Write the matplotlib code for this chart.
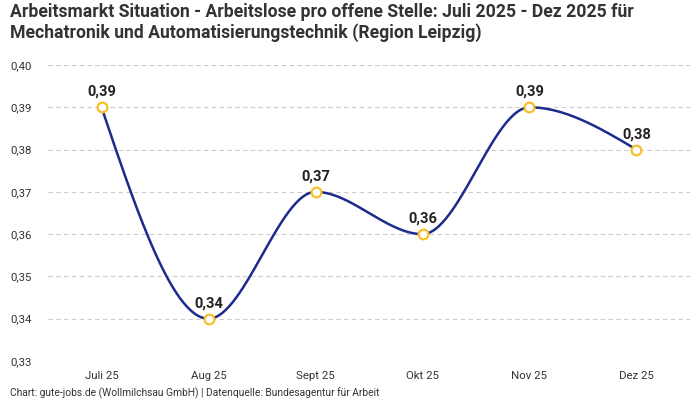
import numpy as np
import matplotlib
matplotlib.use("Agg")
import matplotlib.pyplot as plt

categories = ["Juli 25", "Aug 25", "Sept 25", "Okt 25", "Nov 25", "Dez 25"]
values = [0.39, 0.34, 0.37, 0.36, 0.39, 0.38]
y_ticks = [0.33, 0.34, 0.35, 0.36, 0.37, 0.38, 0.39, 0.40]
title = ("Arbeitsmarkt Situation - Arbeitslose pro offene Stelle: Juli 2025 - Dez 2025 für\n"
         "Mechatronik und Automatisierungstechnik (Region Leipzig)")
footer = "Chart: gute-jobs.de (Wollmilchsau GmbH) | Datenquelle: Bundesagentur für Arbeit"

plt.rcParams['font.family'] = ['Roboto', 'DejaVu Sans']

def fmt(v):
    return f"{v:.2f}".replace(".", ",")

def monotone_curve(xs, ys, n=60):
    xs = np.asarray(xs, float); ys = np.asarray(ys, float)
    h = np.diff(xs); s = np.diff(ys) / h
    m = len(xs)
    t = np.zeros(m)
    for i in range(1, m - 1):
        p = (s[i-1] * h[i] + s[i] * h[i-1]) / (h[i-1] + h[i])
        t[i] = (np.sign(s[i-1]) + np.sign(s[i])) * min(abs(s[i-1]), abs(s[i]), 0.5 * abs(p))
    t[0] = (3 * s[0] - t[1]) / 2
    t[-1] = (3 * s[-1] - t[-2]) / 2
    X, Y = [], []
    for i in range(m - 1):
        u = np.linspace(0, 1, n)
        h00 = 2*u**3 - 3*u**2 + 1
        h10 = u**3 - 2*u**2 + u
        h01 = -2*u**3 + 3*u**2
        h11 = u**3 - u**2
        X.append(xs[i] + u * h[i])
        Y.append(h00*ys[i] + h10*h[i]*t[i] + h01*ys[i+1] + h11*h[i]*t[i+1])
    return np.concatenate(X), np.concatenate(Y)

fig = plt.figure(figsize=(7, 4), dpi=100)
ax = fig.add_axes([0.0686, 0.0975, 0.9171, 0.74])

x = np.arange(len(categories))
cx, cy = monotone_curve(x, values)
ax.plot(cx, cy, color="#1c2b8c", lw=1.8, zorder=3)
ax.plot(x, values, linestyle="none", marker="o", ms=7, mfc="white", mec="#f5c02a", mew=1.6, zorder=4)

for xi, v in zip(x, values):
    ax.annotate(fmt(v), (xi, v), xytext=(0, 6), textcoords="offset points",
                ha="center", va="bottom", fontsize=10.5, fontweight="bold", color="#222222")

ax.set_xlim(-0.5, len(categories) - 0.5)
ax.set_ylim(0.33, 0.40)
ax.set_yticks(y_ticks)
ax.set_yticklabels([fmt(v) for v in y_ticks])
ax.set_xticks(x)
ax.set_xticklabels(categories)
ax.tick_params(axis="both", length=0, labelsize=8.2, labelcolor="#333333")
ax.tick_params(axis="x", pad=7)
for lab in ax.get_yticklabels():
    lab.set_horizontalalignment("left")
ax.tick_params(axis="y", pad=27)
ax.grid(axis="y", color="#cccccc", linestyle=(0, (4, 3)), lw=0.8)
for sp in ax.spines.values():
    sp.set_visible(False)

fig.text(10/700, 1 - 3/400, title, ha="left", va="top", fontsize=12.7, fontweight="bold",
         color="#333333", linespacing=1.12)
fig.text(10/700, 1 - 393/400, footer, ha="left", va="center", fontsize=7.4, color="#333333")

fig.savefig("out.png", dpi=100, facecolor="white")
